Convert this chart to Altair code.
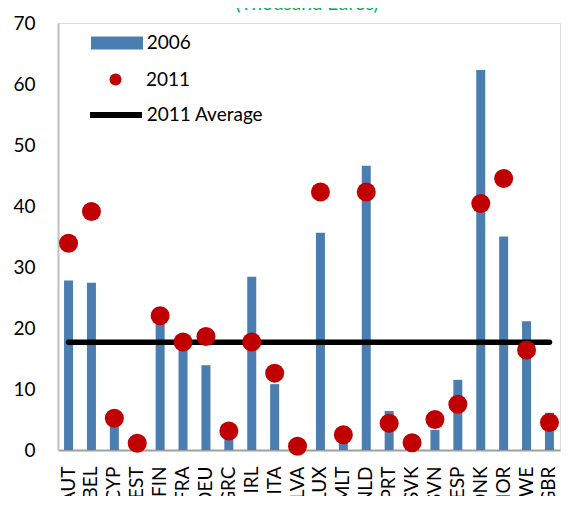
import altair as alt
import pandas as pd

countries = ["AUT", "BEL", "CYP", "EST", "FIN", "FRA", "DEU", "GRC", "IRL", "ITA", "LVA",
             "LUX", "MLT", "NLD", "PRT", "SVK", "SVN", "ESP", "DNK", "NOR", "SWE", "GBR"]
v2006 = [27.8, 27.4, 4.5, 1.4, 21.3, 16.8, 13.9, 2.7, 28.4, 10.8, 0.4,
         35.6, 2.2, 46.6, 6.4, 1.0, 3.3, 11.5, 62.3, 35.0, 21.1, 6.1]
v2011 = [33.9, 39.1, 5.2, 1.1, 22.0, 17.7, 18.6, 3.1, 17.7, 12.6, 0.6,
         42.3, 2.5, 42.3, 4.4, 1.2, 5.0, 7.5, 40.4, 44.5, 16.4, 4.5]
avg2011 = 17.65
y_ticks = [0, 10, 20, 30, 40, 50, 60, 70]
subtitle = "(Thousand Euros)"

df = pd.DataFrame({
    "country": countries,
    "v2006": v2006,
    "v2011": v2011,
    "avg": [avg2011] * len(countries),
    "s2006": ["2006"] * len(countries),
    "s2011": ["2011"] * len(countries),
    "savg": ["2011 Average"] * len(countries),
})

FONT = "Lato"
BLUE = "#4A7EB0"
RED = "#C00000"

x_enc = alt.X(
    "country:N", sort=countries, title=None,
    scale=alt.Scale(paddingInner=0.607, paddingOuter=0.264),
    axis=alt.Axis(labelAngle=270, labelFont=FONT, labelFontSize=19, labelColor="black",
                  labelPadding=16, ticks=False, tickSize=0, domainColor="#A0A0A0",
                  domainWidth=2, labelOverlap=False),
)
y_scale = alt.Scale(domain=[0, 70], nice=False)
y_axis = alt.Axis(values=y_ticks, labelFont=FONT, labelFontSize=19, labelColor="black",
                  labelPadding=23, ticks=False, tickSize=0, grid=False,
                  domainColor="#BFBFBF", domainWidth=2)

base = alt.Chart(df)

bars = base.mark_bar(size=9).encode(
    x=x_enc,
    y=alt.Y("v2006:Q", scale=y_scale, axis=y_axis, title=None),
    color=alt.Color("s2006:N", scale=alt.Scale(domain=["2006"], range=[BLUE]),
                    legend=alt.Legend(title=None, orient="none", legendX=33, legendY=-6,
                                      symbolType="M-1,-0.25H1V0.25H-1Z", symbolSize=2704,
                                      symbolStrokeWidth=0, labelOffset=3.7, padding=0,
                                      labelFont=FONT, labelFontSize=19, labelColor="black")),
)

avg_line = base.mark_line(strokeWidth=5.5, strokeCap="round").encode(
    x=alt.X("country:N", sort=countries),
    y=alt.Y("avg:Q", scale=y_scale),
    color=alt.Color("savg:N", scale=alt.Scale(domain=["2011 Average"], range=["black"]),
                    legend=alt.Legend(title=None, orient="none", legendX=29, legendY=63,
                                      symbolType="stroke", symbolSize=2704,
                                      symbolStrokeWidth=6, labelOffset=1.7, padding=0,
                                      labelFont=FONT, labelFontSize=19, labelColor="black")),
)

dots = base.mark_point(filled=True, size=361, opacity=1, shape="circle").encode(
    x=alt.X("country:N", sort=countries),
    y=alt.Y("v2011:Q", scale=y_scale),
    color=alt.Color("s2011:N", scale=alt.Scale(domain=["2011"], range=[RED]),
                    legend=alt.Legend(title=None, orient="none", legendX=48, legendY=47,
                                      symbolType="circle", symbolSize=144,
                                      symbolStrokeWidth=0, labelOffset=21, padding=0,
                                      symbolOpacity=1,
                                      labelFont=FONT, labelFontSize=19, labelColor="black")),
)

title_text = alt.Chart(pd.DataFrame({"t": [subtitle]})).mark_text(
    font=FONT, fontSize=19, color="#00B050", baseline="alphabetic", align="center"
).encode(text="t:N", x=alt.value(249), y=alt.value(-13))

chart = alt.layer(bars, avg_line, dots, title_text).resolve_scale(
    color="independent"
).resolve_legend(color="independent").properties(
    width=502, height=427,
    autosize=alt.AutoSizeParams(type="none"),
    padding={"left": 50, "top": 15, "right": 1, "bottom": 46},
).configure_view(stroke="#BFBFBF", strokeWidth=1.5).configure(background="white")

chart.save("out.html", embed_options={"renderer": "svg", "actions": False})
